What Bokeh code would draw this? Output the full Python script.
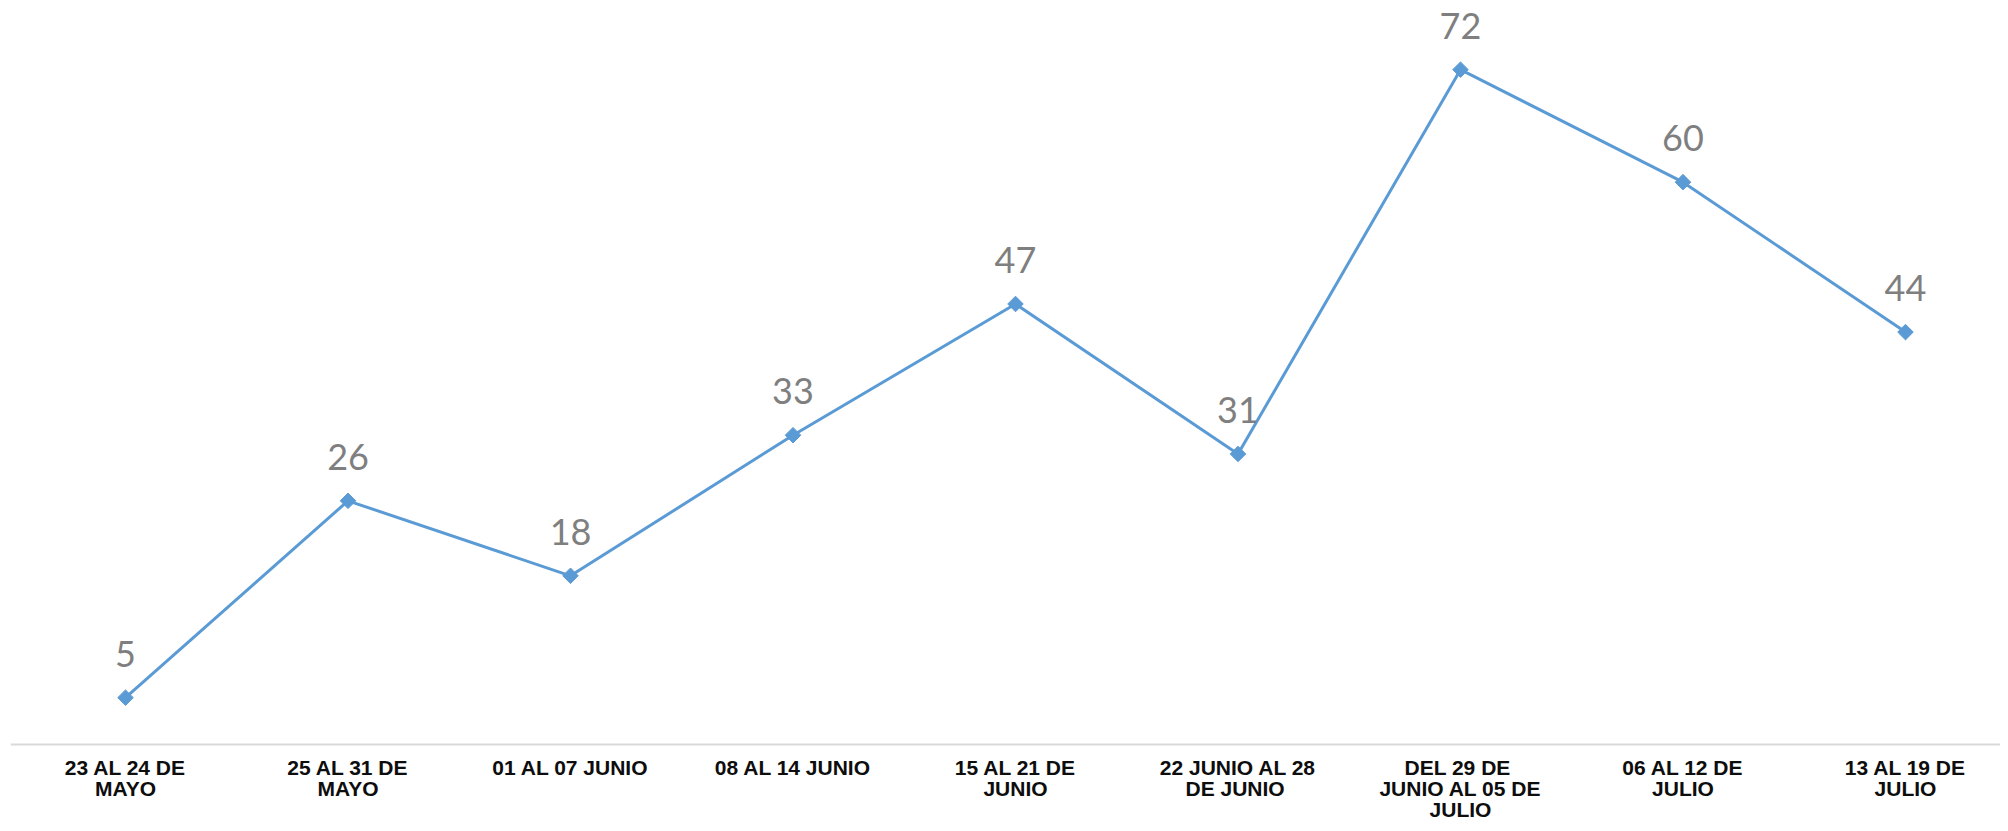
import math
from bokeh.plotting import figure
from bokeh.models import ColumnDataSource, Range1d, Span
from bokeh.core.properties import value
from bokeh.embed import file_html
from bokeh.resources import INLINE

categories = [
    "23 AL 24 DE\nMAYO",
    "25 AL 31 DE\nMAYO",
    "01 AL 07 JUNIO",
    "08 AL 14 JUNIO",
    "15 AL 21 DE\nJUNIO",
    "22 JUNIO AL 28\nDE  JUNIO",
    "DEL  29 DE\nJUNIO AL 05 DE\nJULIO",
    "06 AL 12 DE\nJULIO",
    "13 AL 19 DE\nJULIO",
]
values = [5, 26, 18, 33, 47, 31, 72, 60, 44]
value_labels = [str(v) for v in values]

# category position index along the x axis and the wrapped label lines
idx = list(range(len(categories)))
parts = [c.split("\n") for c in categories]
n_lines = max(len(pp) for pp in parts)
line_texts = [[pp[k] if k < len(pp) else "" for pp in parts] for k in range(n_lines)]

data = dict(x=idx, val=values, lab=value_labels, zero=[0] * len(idx))
for k in range(n_lines):
    data[f"line{k}"] = line_texts[k]
source = ColumnDataSource(data=data)

p = figure(
    width=2000, height=828,
    x_range=Range1d(-0.5169, 8.4270),
    y_range=Range1d(-8.96, 79.38),
    output_backend="svg", toolbar_location=None,
    min_border_left=10, min_border_right=0, min_border_top=0, min_border_bottom=0,
    x_axis_location=None, y_axis_location=None,
)
p.outline_line_color = None
p.xgrid.grid_line_color = None
p.ygrid.grid_line_color = None

# category axis line at zero
p.add_layout(Span(location=0, dimension="width", line_color="#d9d9d9", line_width=2))

p.line("x", "val", source=source, line_color="#5b9bd5", line_width=3)
p.scatter("x", "val", source=source, marker="square", angle=math.pi / 4,
          size=11, fill_color="#5b9bd5", line_color="#5b9bd5")

# value labels
p.text("x", "val", text="lab", source=source, y_offset=-44,
       text_align="center", text_baseline="alphabetic",
       text_font=value("Lato"), text_font_size="36px", text_color="#7f7f7f")

# category labels, one centred row per wrapped line
for k in range(n_lines):
    p.text("x", "zero", text=f"line{k}", source=source,
           y_offset=23 + 21 * k, text_align="center", text_baseline="alphabetic",
           text_font=value("Liberation Sans"), text_font_style="bold",
           text_font_size="21px", text_color="#0d0d0d")

open("out.html", "w").write(file_html(p, INLINE))
